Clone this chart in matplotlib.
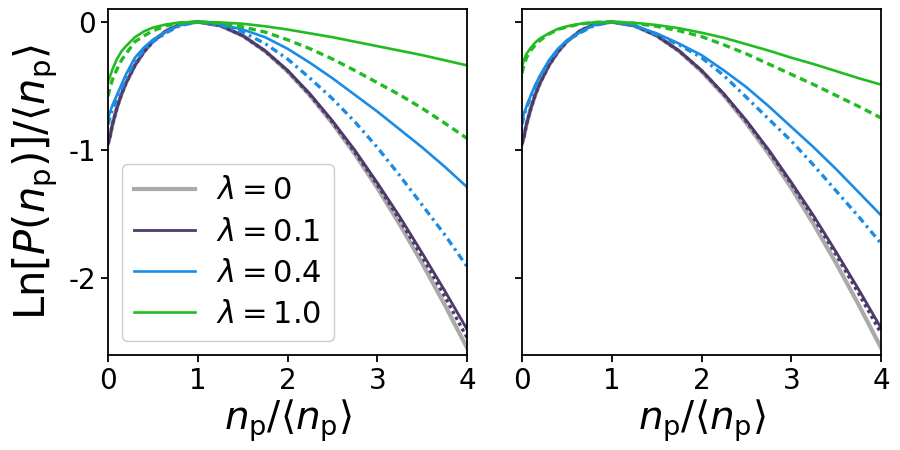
import numpy as np
import matplotlib
matplotlib.use("Agg")
import matplotlib.pyplot as plt

plt.rcParams['axes.unicode_minus'] = False

# ------------------------------
# Dati
# ------------------------------
x = [0, 0.02, 0.05, 0.1, 0.15, 0.2, 0.3, 0.4, 0.5, 0.65, 0.8, 1.0,
     1.25, 1.5, 1.75, 2.0, 2.25, 2.5, 2.75, 3.0, 3.25, 3.5, 3.75, 4.0]

# lambda = 0 (uguale nei due pannelli)
y_l0 = [-0.95, -0.90, -0.80, -0.67, -0.565, -0.478, -0.339, -0.234, -0.153, -0.070, -0.022, 0.0,
        -0.029, -0.108, -0.229, -0.386, -0.575, -0.791, -1.032, -1.296, -1.581, -1.885, -2.207, -2.545]

# pannello sinistro
sx_l01 = [-0.95, -0.90, -0.80, -0.67, -0.565, -0.478, -0.339, -0.234, -0.153, -0.070, -0.022, 0.0,
          -0.029, -0.107, -0.226, -0.378, -0.562, -0.772, -1.002, -1.256, -1.521, -1.805, -2.097, -2.40]
sx_l01_b = [-0.95, -0.90, -0.80, -0.67, -0.565, -0.478, -0.339, -0.234, -0.153, -0.070, -0.022, 0.0,
            -0.029, -0.108, -0.228, -0.382, -0.570, -0.782, -1.017, -1.272, -1.546, -1.835, -2.142, -2.465]
sx_l04 = [-0.76, -0.71, -0.65, -0.57, -0.49, -0.41, -0.28, -0.20, -0.14, -0.075, -0.025, 0.0,
          -0.02, -0.06, -0.12, -0.21, -0.32, -0.44, -0.57, -0.70, -0.84, -0.98, -1.13, -1.29]
sx_l04_b = [-0.80, -0.75, -0.68, -0.60, -0.52, -0.44, -0.31, -0.22, -0.155, -0.085, -0.03, 0.0,
            -0.025, -0.08, -0.17, -0.29, -0.44, -0.60, -0.78, -0.98, -1.20, -1.43, -1.66, -1.91]
sx_l1 = [-0.47, -0.43, -0.37, -0.29, -0.23, -0.19, -0.12, -0.075, -0.045, -0.02, -0.005, 0.0,
         -0.005, -0.015, -0.035, -0.06, -0.09, -0.12, -0.155, -0.19, -0.225, -0.26, -0.30, -0.34]
sx_l1_b = [-0.58, -0.52, -0.45, -0.37, -0.30, -0.25, -0.155, -0.11, -0.07, -0.03, -0.01, 0.0,
           -0.01, -0.04, -0.08, -0.14, -0.21, -0.29, -0.38, -0.475, -0.57, -0.675, -0.79, -0.91]

# pannello destro
dx_l01 = [-0.95, -0.90, -0.80, -0.67, -0.565, -0.478, -0.339, -0.234, -0.153, -0.070, -0.022, 0.0,
          -0.029, -0.107, -0.226, -0.378, -0.562, -0.770, -1.000, -1.252, -1.515, -1.797, -2.088, -2.39]
dx_l01_b = [-0.95, -0.90, -0.80, -0.67, -0.565, -0.478, -0.339, -0.234, -0.153, -0.070, -0.022, 0.0,
            -0.029, -0.108, -0.228, -0.381, -0.567, -0.778, -1.010, -1.265, -1.533, -1.820, -2.120, -2.43]
dx_l04 = [-0.78, -0.72, -0.66, -0.57, -0.49, -0.42, -0.30, -0.21, -0.145, -0.08, -0.025, 0.0,
          -0.03, -0.09, -0.17, -0.26, -0.38, -0.51, -0.66, -0.82, -0.98, -1.15, -1.33, -1.51]
dx_l04_b = [-0.80, -0.74, -0.67, -0.58, -0.50, -0.43, -0.31, -0.22, -0.15, -0.085, -0.03, 0.0,
            -0.032, -0.10, -0.18, -0.28, -0.42, -0.59, -0.76, -0.93, -1.12, -1.32, -1.52, -1.73]
dx_l1 = [-0.35, -0.30, -0.25, -0.20, -0.16, -0.13, -0.09, -0.055, -0.035, -0.015, -0.004, 0.0,
         -0.008, -0.025, -0.05, -0.085, -0.125, -0.175, -0.225, -0.28, -0.33, -0.385, -0.44, -0.49]
dx_l1_b = [-0.40, -0.34, -0.28, -0.22, -0.18, -0.145, -0.095, -0.06, -0.04, -0.017, -0.005, 0.0,
           -0.012, -0.035, -0.07, -0.115, -0.18, -0.25, -0.33, -0.41, -0.49, -0.575, -0.66, -0.75]

etichette = [r'$\lambda = 0$', r'$\lambda = 0.1$', r'$\lambda = 0.4$', r'$\lambda = 1.0$']
c_grigio = '#aaaaaa'
c_viola = '#4e3a6a'
c_blu = '#1a8ce6'
c_verde = '#22bb22'

# ------------------------------
# Figura
# ------------------------------
fig = plt.figure(figsize=(9, 4.5), dpi=100)
ax1 = fig.add_axes([0.12, 0.211, 0.399, 0.769])
ax2 = fig.add_axes([0.58, 0.211, 0.399, 0.769], sharey=ax1)

pannelli = [
    (ax1, sx_l01, sx_l01_b, sx_l04, sx_l04_b, sx_l1, sx_l1_b),
    (ax2, dx_l01, dx_l01_b, dx_l04, dx_l04_b, dx_l1, dx_l1_b),
]

for ax, a, ab, b, bb, c, cb in pannelli:
    ax.plot(x, y_l0, c=c_grigio, lw=3.0, label=etichette[0])
    ax.plot(x, ab, c=c_viola, lw=2.4, ls=(0, (1, 1)))
    ax.plot(x, a, c=c_viola, lw=2.0, label=etichette[1])
    ax.plot(x, bb, c=c_blu, lw=2.4, ls=(0, (2.2, 1.3, 0.8, 1.3)))
    ax.plot(x, b, c=c_blu, lw=1.9, label=etichette[2])
    ax.plot(x, cb, c=c_verde, lw=2.4, ls=(0, (2.2, 1.4)))
    ax.plot(x, c, c=c_verde, lw=1.9, label=etichette[3])

    ax.set_xlim(0, 4)
    ax.set_ylim(-2.6, 0.1)
    ax.set_xticks([0, 1, 2, 3, 4])
    ax.set_yticks([0, -1, -2])
    ax.tick_params(labelsize=20, length=5, width=1.3)
    ax.set_xlabel(r'$n_{\rm p}/\langle n_{\rm p}\rangle$', fontsize=28, labelpad=2)
    for s in ax.spines.values():
        s.set_linewidth(1.3)

ax1.set_yticklabels(['0', '-1', '-2'])
ax2.tick_params(labelleft=False)
ax1.set_ylabel(r'Ln$[P(n_{\rm p})]/\langle n_{\rm p}\rangle$', fontsize=30, labelpad=6)

ax1.legend(loc='lower left', fontsize=22, handlelength=2.0, handletextpad=0.7,
           labelspacing=0.4, borderaxespad=0.45, framealpha=1, edgecolor='#cccccc')

fig.savefig('out.png', dpi=100)
